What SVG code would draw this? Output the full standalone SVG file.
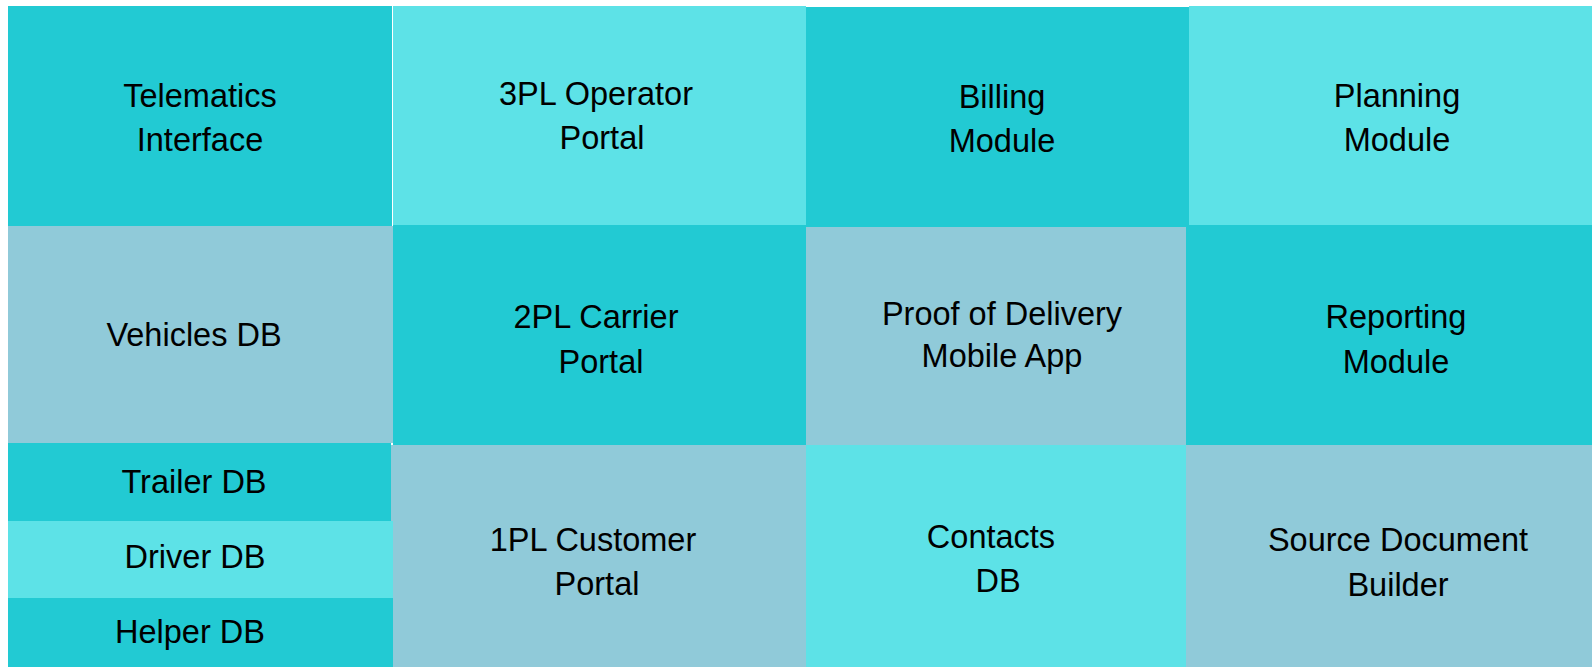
<svg xmlns="http://www.w3.org/2000/svg" width="1592" height="667" viewBox="0 0 1592 667">
<style>
.t{fill:#22CAD3}.l{fill:#5DE2E7}.b{fill:#90CAD9}
text{font-family:"Liberation Sans",Arial,sans-serif;font-size:32.5px;fill:#000;text-anchor:middle}
</style>
<rect width="1592" height="667" fill="#fff"/>
<g id="telematics"><rect class="t" x="8" y="6" width="384" height="220"/><text x="200" y="107">Telematics</text><text x="200" y="151">Interface</text></g>
<g id="operator3pl"><rect class="l" x="393" y="6" width="413" height="219"/><text x="596" y="105">3PL Operator</text><text x="602" y="149">Portal</text></g>
<g id="billing"><rect class="t" x="806" y="7" width="383" height="220"/><text x="1002" y="108">Billing</text><text x="1002" y="152">Module</text></g>
<g id="planning"><rect class="l" x="1189" y="6" width="403" height="219"/><text x="1397" y="107">Planning</text><text x="1397" y="151">Module</text></g>
<g id="vehicles"><rect class="b" x="8" y="226" width="385" height="217"/><text x="194" y="346">Vehicles DB</text></g>
<g id="carrier2pl"><rect class="t" x="393" y="225" width="413" height="220"/><text x="596" y="328">2PL Carrier</text><text x="601" y="373">Portal</text></g>
<g id="pod"><rect class="b" x="806" y="227" width="380" height="218"/><text x="1002" y="325">Proof of Delivery</text><text x="1002" y="367">Mobile App</text></g>
<g id="reporting"><rect class="t" x="1186" y="225" width="406" height="220"/><text x="1396" y="328">Reporting</text><text x="1396" y="373">Module</text></g>
<g id="customer1pl"><rect class="b" x="391" y="445" width="415" height="222"/><text x="593" y="551">1PL Customer</text><text x="597" y="595">Portal</text></g>
<g id="trailer"><rect class="t" x="8" y="443" width="383" height="78"/><text x="194" y="493">Trailer DB</text></g>
<g id="driver"><rect class="l" x="8" y="521" width="385" height="77"/><text x="195" y="568">Driver DB</text></g>
<g id="helper"><rect class="t" x="8" y="598" width="385" height="69"/><text x="190" y="643">Helper DB</text></g>
<g id="contacts"><rect class="l" x="806" y="445" width="380" height="222"/><text x="991" y="548">Contacts</text><text x="998" y="592">DB</text></g>
<g id="sourcedoc"><rect class="b" x="1186" y="445" width="406" height="222"/><text x="1398" y="551">Source Document</text><text x="1398" y="596">Builder</text></g>
<g id="connectors"/>
</svg>
